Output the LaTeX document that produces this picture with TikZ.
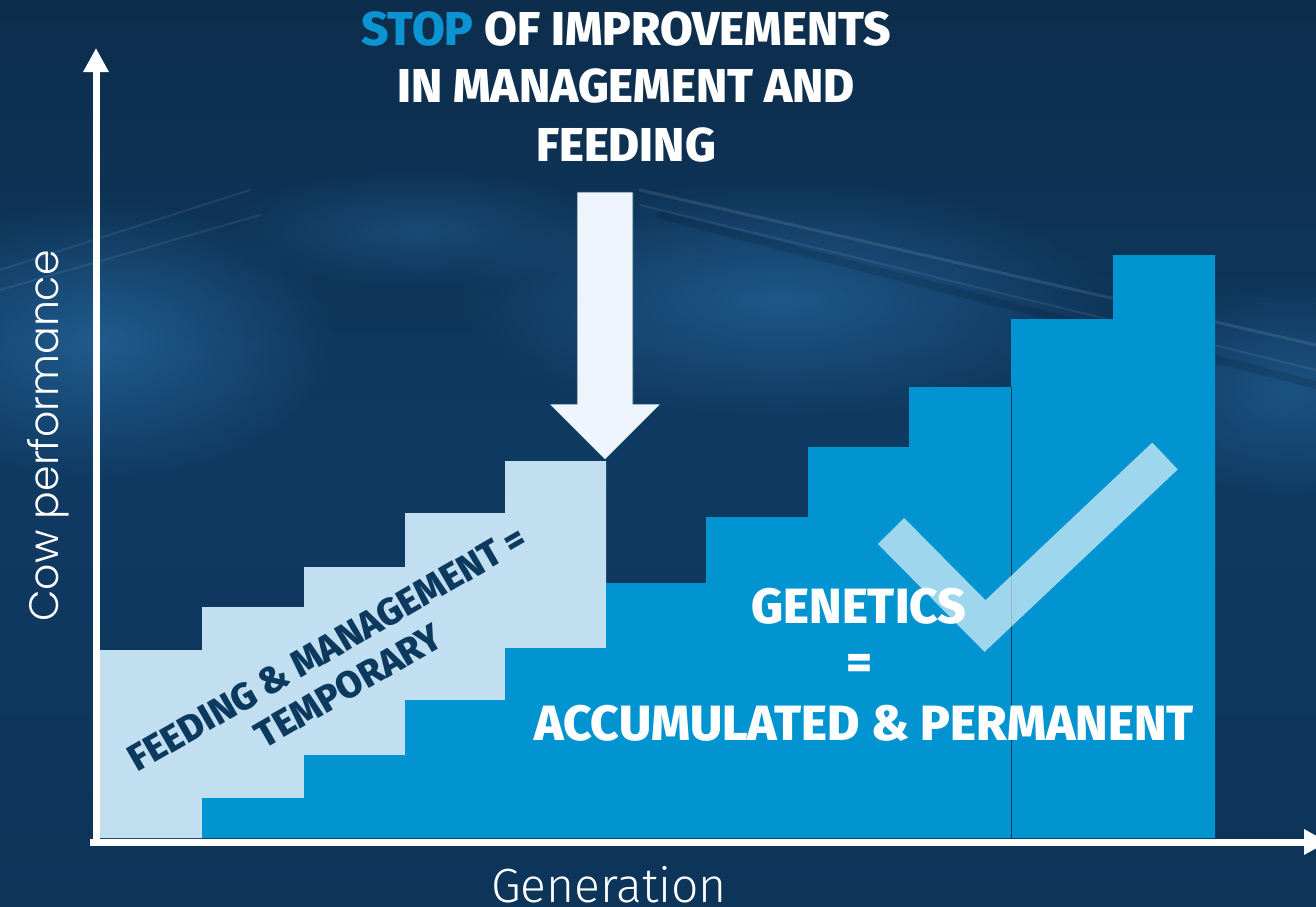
\documentclass[tikz,border=0pt]{standalone}
\usepackage{fontspec}
\setmainfont{Fira Sans}[BoldFont={Fira Sans ExtraBold}]
\newfontfamily\cowfont{Poppins Light}
\newfontfamily\genfont{Fira Sans Light}
\usetikzlibrary{fadings,arrows.meta}
\definecolor{bgtop}{HTML}{0D2D4C}
\definecolor{bgmid}{HTML}{0F3A62}
\definecolor{bgbot}{HTML}{0D3459}
\definecolor{glowc}{HTML}{2C74AE}
\definecolor{lightbar}{HTML}{C2DFF1}
\definecolor{bluebar}{HTML}{0194D0}
\definecolor{stopblue}{HTML}{0B93D2}
\definecolor{navytext}{HTML}{0C3A5F}
\definecolor{arrowfill}{HTML}{EEF4FB}
\definecolor{arrowline}{HTML}{0E4660}
\tikzfading[name=glow, inner color=transparent!0, outer color=transparent!100]
\begin{document}
\begin{tikzpicture}[x=1pt,y=-1pt,
  axisline/.style={draw=white, line width=7pt, -{Triangle[width=24pt,length=24pt]}},
  titletext/.style={text=white, font=\fontsize{47.5}{56}\selectfont\bfseries, inner sep=0pt},
  gentext/.style={text=white, font=\fontsize{49.5}{56}\selectfont\bfseries, inner sep=0pt},
  feedtext/.style={text=navytext, font=\fontsize{37.5}{43}\selectfont\bfseries, align=center, inner sep=0pt},
  axislabel/.style={text=white, inner sep=0pt}]
\useasboundingbox (0,0) rectangle (1316,906);
% background
\shade[top color=bgtop, bottom color=bgbot, middle color=bgmid] (0,0) rectangle (1316,906);
\fill[glowc, opacity=0.6, path fading=glow] (100,340) ellipse (240 and 140);
\fill[glowc, opacity=0.55, path fading=glow] (780,300) ellipse (330 and 120);
\fill[glowc, opacity=0.45, path fading=glow] (1290,390) ellipse (170 and 110);
\fill[glowc, opacity=0.35, path fading=glow] (420,230) ellipse (200 and 60);
\begin{scope}[line cap=round]
\draw[white, opacity=0.10, line width=3pt] (640,190) -- (1316,345);
\draw[white, opacity=0.08, line width=2pt] (640,205) -- (1316,370);
\draw[black, opacity=0.12, line width=8pt] (660,215) -- (1316,385);
\draw[white, opacity=0.08, line width=2pt] (0,270) -- (250,190);
\draw[white, opacity=0.08, line width=2pt] (0,290) -- (260,215);
\end{scope}
% bars
\fill[lightbar] (100,838) -- (100,650) -- (202,650) -- (202,607) -- (304,607) -- (304,567) -- (405,567) -- (405,513) -- (505,513) -- (505,461) -- (606,461) -- (606,648) -- (505,648) -- (505,700) -- (405,700) -- (405,755) -- (304,755) -- (304,798) -- (202,798) -- (202,838) -- cycle;
\fill[bluebar] (202,838) -- (202,798) -- (304,798) -- (304,755) -- (405,755) -- (405,700) -- (505,700) -- (505,648) -- (606,648) -- (606,583) -- (706,583) -- (706,517) -- (808,517) -- (808,447) -- (909,447) -- (909,387) -- (1011,387) -- (1011,319) -- (1113,319) -- (1113,255) -- (1215,255) -- (1215,838) -- cycle;
\draw[navytext, line width=0.8pt] (1011,387) -- (1011,838);
% check mark
\draw[white, draw opacity=0.62, line width=37pt, line join=miter] (891,531) -- (985,626) -- (1165,456);
% down arrow
\fill[arrowfill, draw=arrowline, line width=0.8pt] (577,192) -- (633,192) -- (633,404) -- (661,404) -- (605,460) -- (549,404) -- (577,404) -- cycle;
% axes
\coordinate (origin) at (96,842);
\coordinate (xstart) at (90,842);
\coordinate (ytip) at (96,48);
\coordinate (xtip) at (1328,842);
\draw[axisline] (origin) -- (ytip);
\draw[axisline] (xstart) -- (xtip);
% texts
\node[titletext, anchor=base] (t1) at (626,45) {\textcolor{stopblue}{STOP} OF IMPROVEMENTS};
\node[titletext, anchor=base] (t2) at (626,102) {IN MANAGEMENT AND};
\node[titletext, anchor=base] (t3) at (626,161) {FEEDING};
\node[feedtext, rotate=30] (feed) at (338,667) {FEEDING \& MANAGEMENT =\\TEMPORARY};
\node[gentext, anchor=base] (g1) at (859,623) {GENETICS};
\node[gentext] (g2) at (859,667) {=};
\node[gentext, anchor=base] (g3) at (864,740) {ACCUMULATED \& PERMANENT};
\node[axislabel, font=\cowfont\fontsize{41}{50}\selectfont, rotate=90, anchor=base] (ylab) at (58,436) {Cow performance};
\node[axislabel, font=\genfont\fontsize{48}{56}\selectfont, anchor=base] (xlab) at (609,902) {Generation};
\end{tikzpicture}
\end{document}
